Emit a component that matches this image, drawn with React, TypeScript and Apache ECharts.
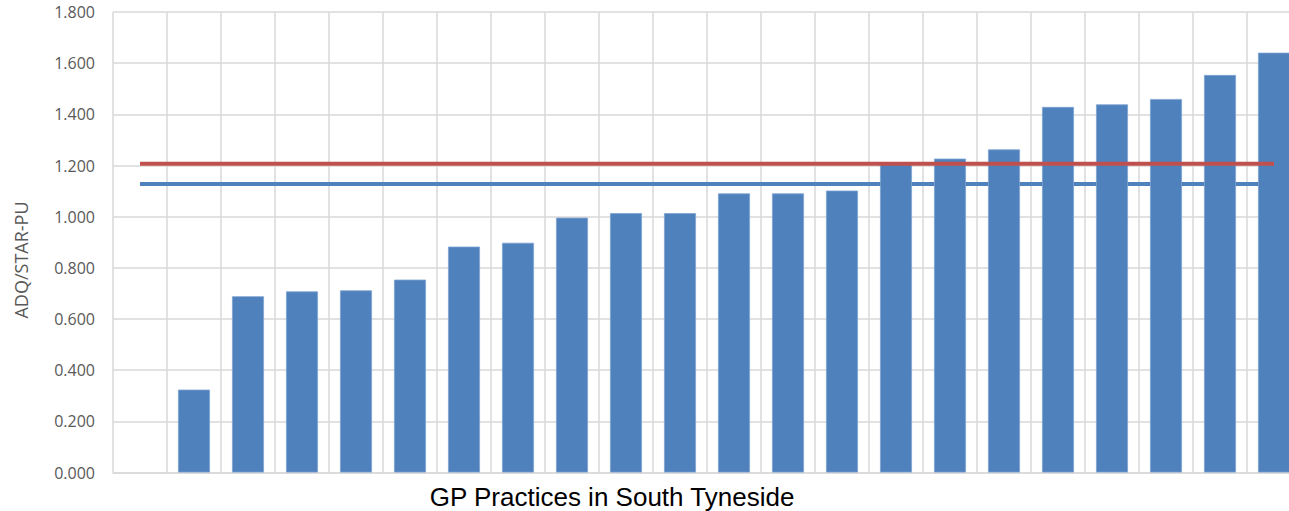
import React, { useEffect, useRef } from "react";
import * as echarts from "echarts";

const categories: string[] = [
  "", "P1", "P2", "P3", "P4", "P5", "P6", "P7", "P8", "P9", "P10",
  "P11", "P12", "P13", "P14", "P15", "P16", "P17", "P18", "P19", "P20", "P21",
];
const values: (number | null)[] = [
  null, 0.324, 0.689, 0.708, 0.712, 0.754, 0.883, 0.898, 0.996, 1.014, 1.014,
  1.091, 1.091, 1.102, 1.21, 1.227, 1.263, 1.429, 1.439, 1.46, 1.554, 1.641,
];
const redLevel = 1.207;
const blueLevel = 1.128;
const yTicks = { min: 0, max: 1.8, interval: 0.2 };
const yAxisTitle = "ADQ/STAR-PU";
const xAxisTitle = "GP Practices in South Tyneside";

export default function App() {
  const ref = useRef<HTMLDivElement>(null);
  useEffect(() => {
    if (!ref.current) return;
    const chart = echarts.init(ref.current, undefined, { renderer: "svg" });
    const first = categories[0];
    const last = categories[categories.length - 1];
    chart.setOption({
      animation: false,
      backgroundColor: "#ffffff",
      grid: { left: 113, top: 12, right: 0, bottom: 38.5, containLabel: false },
      xAxis: {
        type: "category",
        data: categories,
        boundaryGap: true,
        axisLine: { show: true, lineStyle: { color: "#d9d9d9", width: 1.5 } },
        axisTick: { show: false },
        axisLabel: { show: false },
        splitLine: { show: true, lineStyle: { color: "#d9d9d9", width: 1.5 } },
      },
      yAxis: {
        type: "value",
        min: yTicks.min,
        max: yTicks.max,
        interval: yTicks.interval,
        axisLine: { show: false },
        axisTick: { show: false },
        axisLabel: {
          formatter: (v: number) => v.toFixed(3),
          color: "#595959",
          fontFamily: "Open Sans",
          fontSize: 16,
          margin: 18,
        },
        splitLine: { show: true, lineStyle: { color: "#d9d9d9", width: 1.5 } },
      },
      graphic: [
        {
          type: "text",
          x: 612,
          y: 497,
          style: {
            text: xAxisTitle,
            fill: "#000000",
            font: '26px "Liberation Sans", Arial, sans-serif',
            align: "center",
            verticalAlign: "middle",
          },
        },
        {
          type: "text",
          x: 21,
          y: 260,
          rotation: Math.PI / 2,
          style: {
            text: yAxisTitle,
            fill: "#595959",
            font: '18px "Open Sans", sans-serif',
            align: "center",
            verticalAlign: "middle",
          },
        },
      ],
      series: [
        {
          type: "line",
          z: 1,
          symbol: "none",
          data: [[first, blueLevel], [last, blueLevel]],
          lineStyle: { color: "#4f81bd", width: 4 },
          silent: true,
        },
        {
          type: "bar",
          z: 2,
          data: values,
          barWidth: 32,
          itemStyle: { color: "#4f81bd", borderColor: "#7fa3d2", borderWidth: 0.8 },
        },
        {
          type: "line",
          z: 3,
          symbol: "none",
          data: [[first, redLevel], [last, redLevel]],
          lineStyle: { color: "#c0504d", width: 4 },
          silent: true,
        },
      ],
    });
    return () => chart.dispose();
  }, []);
  return (
    <div style={{ position: "fixed", left: 0, top: 0, width: 1289, height: 511, overflow: "hidden" }}>
      <div ref={ref} style={{ width: 1301, height: 511 }} />
    </div>
  );
}
